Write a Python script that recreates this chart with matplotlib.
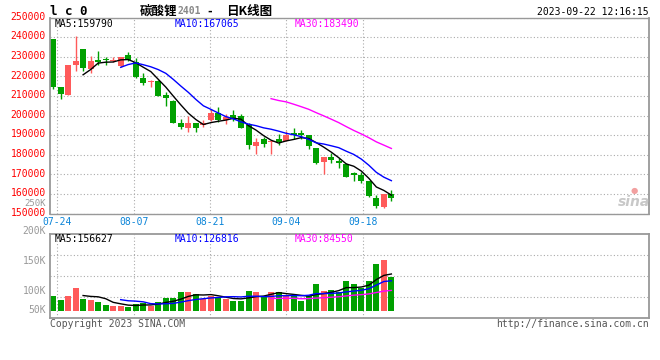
import numpy as np
import pandas as pd
import matplotlib
matplotlib.use("Agg")
import matplotlib.pyplot as plt
from matplotlib.transforms import ScaledTranslation

plt.rcParams['font.family'] = ['DejaVu Sans Mono']

# daily bars 2023-07-21 .. 2023-09-22
opens = [239150, 214670, 210590, 225900, 234050, 223680, 228610, 229120, 228100, 225550,
         231100, 227200, 219430, 217200, 217730, 210510, 207620, 196430, 193540, 196430,
         195240, 197790, 201360, 197790, 200170, 199660, 195410, 184360, 187930, 186570,
         188100, 186910, 191330, 191160, 190100, 183370, 176400, 178780, 176910, 175380,
         170960, 169600, 166540, 158210, 153280, 159910]
highs = [239150, 214670, 225900, 240680, 234050, 230480, 233030, 229800, 229800, 229970,
         232600, 229290, 221640, 218000, 218200, 212040, 207900, 198300, 200000, 196430,
         197790, 203230, 204590, 200680, 202720, 200680, 196090, 188610, 189120, 186900,
         190480, 192350, 193880, 192690, 190300, 183600, 178780, 181160, 178440, 175700,
         171200, 171470, 166800, 159400, 159910, 161950]
lows = [213650, 208700, 210590, 223000, 223000, 221980, 225900, 225730, 227600, 224900,
        227800, 219200, 215690, 214700, 209900, 205070, 196300, 193370, 191500, 191670,
        194390, 197000, 196940, 195580, 197110, 193500, 182830, 180280, 183850, 180280,
        184870, 186900, 188100, 188270, 183200, 175380, 170110, 175890, 173510, 168500,
        166710, 165690, 158500, 152770, 152940, 156340]
closes = [214500, 211100, 225900, 228100, 224530, 227760, 227590, 228270, 228600, 229970,
          228600, 219500, 216710, 217600, 210080, 208810, 196430, 194390, 196430, 193880,
          196090, 201360, 197790, 199490, 198470, 193710, 184870, 186400, 185550, 186740,
          186400, 190310, 190140, 190140, 184640, 175890, 178780, 177420, 175890, 168750,
          169940, 166540, 158890, 153790, 159910, 158040]
volumes = [64900, 46200, 64900, 99400, 51900, 46200, 37500, 24600, 20300, 20300,
           17400, 30300, 34700, 21700, 37500, 54800, 54800, 80700, 80700, 72100,
           50500, 63400, 54800, 50500, 43300, 43300, 85000, 80700, 63400, 80700,
           80700, 63400, 63400, 43300, 63400, 115200, 85000, 89300, 80700, 128200,
           115200, 98000, 128200, 201600, 218800, 145400]
date_labels = ['07-24', '08-07', '08-21', '09-04', '09-18']
vol_labels = ['200K', '150K', '100K', '50K']

RED = '#ff5a5a'
GREEN = '#00a000'
GRID = '#aaaaaa'
FRAME = '#999999'
W, H = 660, 360

def fx(px):
    return px / W

def fy(py):
    return 1 - py / H

opens = np.array(opens)
closes = np.array(closes)
highs = np.array(highs)
lows = np.array(lows)
volumes = np.array(volumes)
x = np.arange(len(closes))
cols = np.where(closes >= opens, RED, GREEN)

fig = plt.figure(figsize=(6.6, 3.6), dpi=100)
ax = fig.add_axes([fx(50), fy(213.6), fx(599), 196 / H])
axv = fig.add_axes([fx(50), fy(318), fx(599), 84 / H])

grid_x = 0.57 + 10.15 * np.arange(len(date_labels))
xlim = (-0.4, 79.26)

# candles
ax.vlines(x, lows, highs, colors=cols, lw=1)
body = np.maximum(np.abs(closes - opens), 450)
ax.bar(x, body, bottom=np.minimum(opens, closes), width=0.8, color=cols, linewidth=0)

s = pd.Series(closes)
ax.plot(x, s.rolling(5).mean(), color='black', lw=1)
ax.plot(x, s.rolling(10).mean(), color='#0000ff', lw=1)
ax.plot(x, s.rolling(30).mean(), color='#ff00ff', lw=1)

ax.set_xlim(*xlim)
ax.set_ylim(150000, 250000)
ax.set_yticks(np.arange(150000, 250001, 10000))
ax.tick_params(axis='y', colors='#ff0000', labelsize=7, length=0, pad=3)
lift = ScaledTranslation(0, 1.8 / 100, fig.dpi_scale_trans)
for lab in ax.get_yticklabels():
    lab.set_transform(lab.get_transform() + lift)
ax.set_xticks(grid_x, date_labels)
ax.tick_params(axis='x', colors='#0a84d8', labelsize=7, length=0, pad=2.5)
ax.grid(True, color=GRID, linestyle=(0, (1, 2)), lw=0.8)
ax.set_axisbelow(True)
for side in ['left', 'right']:
    ax.spines[side].set_color(FRAME)
    ax.spines[side].set_linewidth(1.3)
for side in ['top', 'bottom']:
    ax.spines[side].set_color(FRAME)
    ax.spines[side].set_linestyle((0, (1, 1)))
    ax.spines[side].set_linewidth(1.0)

# volume
axv.bar(x, volumes, width=0.8, color=cols, linewidth=0)
v = pd.Series(volumes)
axv.plot(x, v.rolling(5).mean(), color='black', lw=1)
axv.plot(x, v.rolling(10).mean(), color='#0000ff', lw=1)
axv.plot(x, v.rolling(30).mean(), color='#ff00ff', lw=1)
vlim = (-31500, 331000)
axv.set_xlim(*xlim)
axv.set_ylim(*vlim)
axv.set_yticks(np.linspace(vlim[0], vlim[1], 5)[1:-1])
axv.set_xticks(grid_x)
axv.tick_params(labelleft=False, labelbottom=False, length=0)
axv.grid(True, color=GRID, linestyle=(0, (1, 2)), lw=0.8)
axv.set_axisbelow(True)
for side in axv.spines:
    axv.spines[side].set_color(FRAME)
    axv.spines[side].set_linewidth(1.3)

for lab, py in zip(vol_labels, [230.7, 261, 291, 310.3]):
    fig.text(fx(46), fy(py), lab, color='#999999', fontsize=7, ha='right', va='center')
fig.text(fx(46), fy(203), '250K', color='#999999', fontsize=6.5, ha='right', va='center')

# header
fig.text(fx(50), fy(11.2), 'l c 0', fontsize=9, weight='bold', color='black', va='center')
cjk = ['Noto Sans CJK SC', 'DejaVu Sans']
fig.text(fx(140), fy(11), '碳酸锂', family=cjk, fontsize=9, weight='bold', va='center')
fig.text(fx(177), fy(11.5), '2401', fontsize=7, color='#888888', weight='bold', va='center')
fig.text(fx(207), fy(11), '-', family=cjk, fontsize=9, weight='bold', va='center')
fig.text(fx(226), fy(11), '日K线图', family=cjk, fontsize=9, weight='bold', va='center')
fig.text(fx(649), fy(12.3), '2023-09-22 12:16:15', fontsize=7, ha='right', va='center')

fig.text(fx(55), fy(23.7), 'MA5:%d' % 159790, fontsize=7, color='black', va='center')
fig.text(fx(175), fy(23.7), 'MA10:%d' % 167065, fontsize=7, color='#0000ff', va='center')
fig.text(fx(295), fy(23.7), 'MA30:%d' % 183490, fontsize=7, color='#ff00ff', va='center')
fig.text(fx(55), fy(238.5), 'MA5:%d' % 156627, fontsize=7, color='black', va='center')
fig.text(fx(175), fy(238.5), 'MA10:%d' % 126816, fontsize=7, color='#0000ff', va='center')
fig.text(fx(295), fy(238.5), 'MA30:%d' % 84550, fontsize=7, color='#ff00ff', va='center')

# watermark
fig.text(fx(634), fy(190), '\u25cf', family='DejaVu Sans', fontsize=6, color='#f2a0a0',
         ha='center', va='center')
fig.text(fx(634), fy(202), 'sina', family='DejaVu Sans', style='italic', weight='bold',
         fontsize=10, color='#c8c8c8', ha='center', va='center')

fig.text(fx(50), fy(323.7), 'Copyright 2023 SINA.COM', fontsize=7, color='#555555', va='center')
fig.text(fx(649), fy(324), 'http://finance.sina.com.cn', fontsize=7, color='#555555',
         ha='right', va='center')

fig.savefig('out.png', dpi=100)
